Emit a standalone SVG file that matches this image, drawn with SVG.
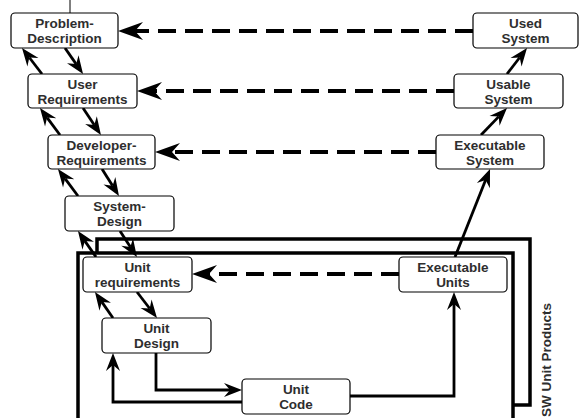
<svg xmlns="http://www.w3.org/2000/svg" width="579" height="418" viewBox="0 0 579 418">
<style>
.box{fill:#fff;stroke:#000;stroke-width:1.2}
.t{font-family:"Liberation Sans",Arial,sans-serif;font-weight:bold;font-size:13.5px;fill:#2e2e2e;text-anchor:middle}
.frame{stroke:#000;stroke-width:3.5}
.sol{fill:none;stroke:#000;stroke-width:2.8;marker-end:url(#mh)}
.dash{fill:none;stroke:#000;stroke-width:4;stroke-dasharray:18 9;marker-end:url(#bh)}
</style>
<defs>
<marker id="mh" markerUnits="userSpaceOnUse" viewBox="-12 -8 14 16" refX="0" refY="0" markerWidth="14" markerHeight="16" orient="auto" overflow="visible">
<path d="M12,0 L-6,-7 L0,0 L-6,7 Z" fill="#000"/>
</marker>
<marker id="bh" markerUnits="userSpaceOnUse" viewBox="-10 -10 30 20" refX="0" refY="0" markerWidth="30" markerHeight="20" orient="auto" overflow="visible">
<path d="M17,0 L-8,-9 L0,0 L-8,9 Z" fill="#000"/>
</marker>
</defs>

<g id="frames">
<rect class="frame" x="97" y="239" width="433" height="166" fill="none"/>
<rect class="frame" x="78" y="253" width="435" height="172" fill="#fff"/>
<text class="t" transform="translate(551,360) rotate(-90)">SW Unit Products</text>
</g>

<g id="connectors">
<line x1="70" y1="0" x2="70" y2="13" stroke="#000" stroke-width="1"/>
<path class="sol" d="M65,48 L76.2,64.1"/>
<path class="sol" d="M42,74 L29.3,57.5"/>
<path class="sol" d="M83,108 L94.3,125"/>
<path class="sol" d="M60,135 L47.1,117.6"/>
<path class="sol" d="M102,169 L112.6,185.8"/>
<path class="sol" d="M78,196 L65.1,178.6"/>
<path class="sol" d="M120,231 L130.4,247"/>
<path class="sol" d="M96,257 L84.8,240.9"/>
<path class="sol" d="M137,292 L149.7,308.5"/>
<path class="sol" d="M113,318 L101.8,301.9"/>
<path class="sol" d="M156,353 V390 H230"/>
<path class="sol" d="M242,402 H113 V365"/>
<path class="sol" d="M350,396 H454 V304"/>
<path class="sol" d="M455,257 L485.6,180.1"/>
<path class="sol" d="M481,135 L498.7,116.6"/>
<path class="sol" d="M507,74 L519.7,57.5"/>
<path class="dash" d="M473,31 H135"/>
<path class="dash" d="M454,91 H154"/>
<path class="dash" d="M436,152 H172"/>
<path class="dash" d="M399,274 H209"/>
</g>

<g id="problem-description">
<rect class="box" x="11" y="13" width="107" height="35" rx="4"/>
<text class="t" x="64.5" y="28">Problem-</text>
<text class="t" x="64.5" y="43">Description</text>
</g>
<g id="user-requirements">
<rect class="box" x="28" y="74" width="109" height="34" rx="4"/>
<text class="t" x="82.5" y="89">User</text>
<text class="t" x="82.5" y="104">Requirements</text>
</g>
<g id="developer-requirements">
<rect class="box" x="48" y="135" width="107" height="34" rx="4"/>
<text class="t" x="101.5" y="150">Developer-</text>
<text class="t" x="101.5" y="165">Requirements</text>
</g>
<g id="system-design">
<rect class="box" x="65" y="196" width="109" height="35" rx="4"/>
<text class="t" x="119.5" y="211">System-</text>
<text class="t" x="119.5" y="226">Design</text>
</g>
<g id="unit-requirements">
<rect class="box" x="83" y="257" width="109" height="35" rx="4"/>
<text class="t" x="137.5" y="272">Unit</text>
<text class="t" x="137.5" y="287">requirements</text>
</g>
<g id="unit-design">
<rect class="box" x="102" y="318" width="109" height="35" rx="4"/>
<text class="t" x="156.5" y="333">Unit</text>
<text class="t" x="156.5" y="348">Design</text>
</g>
<g id="unit-code">
<rect class="box" x="242" y="379" width="108" height="35" rx="4"/>
<text class="t" x="296" y="394">Unit</text>
<text class="t" x="296" y="409">Code</text>
</g>
<g id="executable-units">
<rect class="box" x="399" y="257" width="108" height="35" rx="4"/>
<text class="t" x="453" y="272">Executable</text>
<text class="t" x="453" y="287">Units</text>
</g>
<g id="executable-system">
<rect class="box" x="436" y="135" width="108" height="34" rx="4"/>
<text class="t" x="490" y="150">Executable</text>
<text class="t" x="490" y="165">System</text>
</g>
<g id="usable-system">
<rect class="box" x="454" y="74" width="109" height="34" rx="4"/>
<text class="t" x="508.5" y="89">Usable</text>
<text class="t" x="508.5" y="104">System</text>
</g>
<g id="used-system">
<rect class="box" x="473" y="13" width="105" height="35" rx="4"/>
<text class="t" x="525.5" y="28">Used</text>
<text class="t" x="525.5" y="43">System</text>
</g>
</svg>
